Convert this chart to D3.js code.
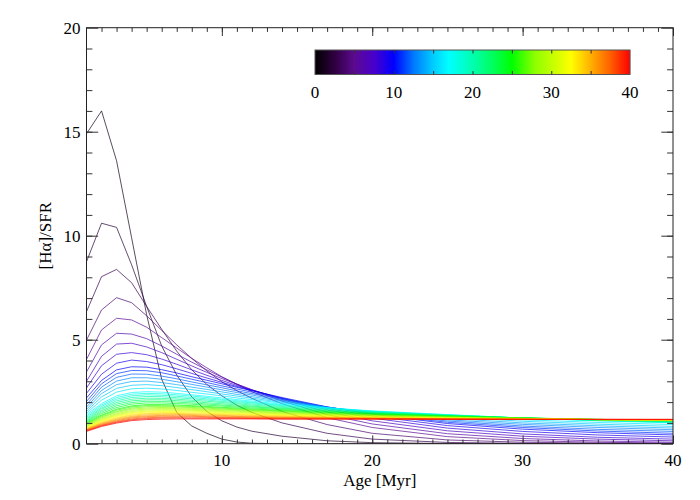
<!DOCTYPE html>
<html><head><meta charset="utf-8">
<script src="https://cdn.jsdelivr.net/npm/d3@7"></script>
<style>body{margin:0;background:#fff}svg{display:block}text{font-family:"Liberation Serif","Times New Roman",serif;fill:#000}</style>
</head><body>
<svg id="c" width="700" height="500"></svg>
<script>
const ages = [1,2,3,4,5,6,7,8,9,10,11,12,14,17,20,25,30,35,40];
const colorValues = d3.range(1,41);
const xTicks = [10,20,30,40];
const yTicks = [0,5,10,15,20];
const barTicks = [0,10,20,30,40];
const curveValues = [
[14.9,16.0,13.6,9.9,6.2,3.1,1.5,0.85,0.5,0.22,0.08,0.02,0,0,0,0,0,0,0],
[8.75,10.6,10.4,8.6,6.6,4.7,3.3,2.25,1.55,1.1,0.8,0.6,0.36,0.14,0.05,0.01,0,0,0],
[6.35,8.03,8.38,7.74,6.6,5.5,4.45,3.55,2.85,2.3,1.85,1.5,1.0,0.5,0.22,0.06,0.02,0,0],
[4.98,6.43,7.02,6.78,6.15,5.45,4.75,4.1,3.5,2.98,2.55,2.18,1.55,0.92,0.5,0.18,0.07,0.03,0.01],
[4.05,5.47,6.03,5.95,5.6,5.1,4.6,4.1,3.65,3.22,2.85,2.5,1.92,1.25,0.78,0.34,0.15,0.07,0.03],
[3.45,4.75,5.31,5.27,5.05,4.7,4.3,3.92,3.55,3.2,2.87,2.57,2.05,1.4,0.95,0.48,0.25,0.13,0.07],
[3.0,4.2,4.79,4.83,4.65,4.38,4.06,3.74,3.43,3.13,2.86,2.6,2.12,1.53,1.1,0.62,0.36,0.22,0.14],
[2.68,3.75,4.3,4.38,4.28,4.07,3.82,3.55,3.29,3.04,2.8,2.58,2.17,1.63,1.23,0.75,0.47,0.31,0.22],
[2.42,3.34,3.87,4.02,3.95,3.8,3.6,3.38,3.16,2.95,2.75,2.56,2.19,1.7,1.33,0.87,0.59,0.42,0.32],
[2.2,3.04,3.55,3.7,3.68,3.56,3.4,3.22,3.05,2.88,2.71,2.55,2.22,1.77,1.41,0.97,0.7,0.53,0.42],
[2.03,2.88,3.37,3.52,3.51,3.41,3.26,3.1,2.94,2.78,2.63,2.48,2.17,1.76,1.43,1.03,0.78,0.61,0.5],
[1.88,2.72,3.19,3.35,3.34,3.25,3.12,2.97,2.83,2.69,2.54,2.41,2.13,1.76,1.46,1.09,0.85,0.69,0.59],
[1.76,2.56,3.01,3.17,3.17,3.1,2.98,2.85,2.72,2.59,2.46,2.34,2.08,1.75,1.48,1.15,0.93,0.78,0.67],
[1.65,2.41,2.84,2.99,3.01,2.94,2.84,2.72,2.61,2.49,2.37,2.26,2.04,1.74,1.51,1.22,1.0,0.86,0.75],
[1.56,2.25,2.66,2.81,2.84,2.79,2.7,2.6,2.5,2.39,2.29,2.19,1.99,1.73,1.53,1.28,1.08,0.94,0.83],
[1.47,2.09,2.48,2.64,2.67,2.63,2.56,2.47,2.39,2.3,2.2,2.12,1.95,1.73,1.56,1.34,1.15,1.02,0.92],
[1.4,1.93,2.3,2.46,2.5,2.48,2.42,2.35,2.28,2.2,2.12,2.05,1.9,1.72,1.58,1.4,1.23,1.1,1.0],
[1.33,1.86,2.22,2.38,2.42,2.4,2.35,2.29,2.22,2.14,2.07,2.0,1.86,1.69,1.56,1.39,1.23,1.11,1.02],
[1.27,1.79,2.14,2.3,2.35,2.33,2.28,2.22,2.16,2.09,2.02,1.96,1.83,1.67,1.54,1.38,1.23,1.12,1.03],
[1.21,1.72,2.06,2.22,2.27,2.26,2.21,2.16,2.1,2.03,1.97,1.91,1.79,1.64,1.52,1.37,1.23,1.13,1.05],
[1.16,1.66,1.98,2.14,2.19,2.18,2.14,2.09,2.04,1.98,1.92,1.86,1.75,1.61,1.5,1.36,1.24,1.14,1.06],
[1.11,1.59,1.9,2.06,2.11,2.11,2.07,2.03,1.97,1.92,1.86,1.81,1.71,1.58,1.48,1.35,1.24,1.14,1.08],
[1.07,1.52,1.82,1.98,2.04,2.03,2.0,1.96,1.91,1.86,1.81,1.77,1.68,1.56,1.46,1.34,1.24,1.15,1.09],
[1.03,1.45,1.74,1.9,1.96,1.96,1.93,1.9,1.85,1.81,1.76,1.72,1.64,1.53,1.44,1.33,1.24,1.16,1.11],
[0.99,1.38,1.66,1.82,1.88,1.88,1.86,1.83,1.79,1.75,1.71,1.67,1.6,1.5,1.42,1.32,1.24,1.17,1.12],
[0.95,1.34,1.61,1.77,1.83,1.83,1.81,1.79,1.75,1.71,1.67,1.63,1.57,1.47,1.4,1.31,1.23,1.17,1.12],
[0.92,1.29,1.55,1.71,1.78,1.78,1.77,1.74,1.71,1.67,1.63,1.6,1.54,1.45,1.38,1.29,1.22,1.17,1.12],
[0.89,1.25,1.5,1.66,1.72,1.74,1.72,1.7,1.66,1.63,1.6,1.56,1.5,1.42,1.36,1.28,1.22,1.16,1.13],
[0.86,1.2,1.44,1.6,1.67,1.69,1.68,1.65,1.62,1.59,1.56,1.53,1.47,1.4,1.34,1.26,1.21,1.16,1.13],
[0.83,1.16,1.39,1.55,1.62,1.64,1.63,1.61,1.58,1.55,1.52,1.49,1.44,1.37,1.32,1.25,1.2,1.16,1.13],
[0.8,1.12,1.35,1.5,1.57,1.59,1.59,1.57,1.54,1.51,1.48,1.46,1.41,1.35,1.3,1.24,1.2,1.16,1.13],
[0.77,1.09,1.31,1.46,1.53,1.55,1.54,1.53,1.5,1.47,1.45,1.42,1.38,1.33,1.28,1.23,1.19,1.16,1.14],
[0.75,1.05,1.26,1.41,1.48,1.5,1.5,1.48,1.46,1.44,1.41,1.39,1.35,1.3,1.27,1.22,1.19,1.16,1.14],
[0.72,1.02,1.22,1.37,1.44,1.46,1.45,1.44,1.42,1.4,1.38,1.36,1.32,1.28,1.25,1.21,1.18,1.16,1.15],
[0.7,0.98,1.18,1.32,1.39,1.41,1.41,1.4,1.38,1.36,1.34,1.32,1.29,1.26,1.23,1.2,1.18,1.16,1.15],
[0.68,0.95,1.14,1.28,1.34,1.36,1.37,1.36,1.34,1.33,1.31,1.29,1.27,1.24,1.22,1.19,1.18,1.16,1.15],
[0.66,0.92,1.10,1.24,1.3,1.32,1.32,1.32,1.30,1.29,1.28,1.27,1.25,1.23,1.21,1.19,1.18,1.16,1.16],
[0.64,0.89,1.06,1.19,1.25,1.27,1.28,1.28,1.27,1.26,1.25,1.24,1.22,1.21,1.2,1.18,1.17,1.17,1.16],
[0.62,0.86,1.03,1.15,1.21,1.23,1.24,1.23,1.23,1.22,1.22,1.21,1.2,1.19,1.19,1.18,1.17,1.17,1.17],
[0.59,0.83,0.99,1.11,1.16,1.18,1.19,1.19,1.19,1.19,1.19,1.19,1.18,1.18,1.18,1.17,1.17,1.17,1.17]
];
const cmapStops = [0,2.5,5,7.5,10,12.5,15,17,20,22.5,25,28,32.5,35,37.5,40];
const cmapColors = ["#000000","#2e0040","#5c0a90","#4800cc","#0000ff","#0078ff","#00ccff","#00ffff","#00ffb0","#00ff60","#00ff00","#90ff00","#ffff00","#ffb000","#ff6000","#ff0000"];

const svg = d3.select("#c");
const L=86.5,R=673,T=27.7,B=443.7;
const x = d3.scaleLinear().domain([1,40]).range([L,R]);
const y = d3.scaleLinear().domain([0,20]).range([B,T]);
const cmap = d3.scaleLinear().domain(cmapStops).range(cmapColors).clamp(true);

svg.append("clipPath").attr("id","pc").append("rect").attr("x",L).attr("y",T).attr("width",R-L).attr("height",B-T);
const line = d3.line().x((d,i)=>x(ages[i])).y(d=>y(d));
const g = svg.append("g").attr("clip-path","url(#pc)");
g.selectAll("path").data(curveValues).join("path")
  .attr("d",line).attr("fill","none")
  .attr("stroke",(d,i)=>cmap(colorValues[i])).attr("stroke-width",0.7);

const fs = 17;
const xMinor = d3.range(2,40);
const yMinor = d3.range(1,20);
function ax(axis, tr){ return svg.append("g").attr("transform",tr).call(axis).call(s=>s.select(".domain").remove()); }
ax(d3.axisTop(x).tickValues(xMinor).tickSize(4.2).tickFormat(""), `translate(0,${B})`);
ax(d3.axisTop(x).tickValues(xTicks).tickSize(8.3).tickFormat(""), `translate(0,${B})`);
ax(d3.axisBottom(x).tickValues(xMinor).tickSize(4.2).tickFormat(""), `translate(0,${T})`);
ax(d3.axisBottom(x).tickValues(xTicks).tickSize(8.3).tickFormat(""), `translate(0,${T})`);
ax(d3.axisRight(y).tickValues(yMinor).tickSize(5.9).tickFormat(""), `translate(${L},0)`);
ax(d3.axisRight(y).tickValues(yTicks).tickSize(11.7).tickFormat(""), `translate(${L},0)`);
ax(d3.axisLeft(y).tickValues(yMinor).tickSize(5.9).tickFormat(""), `translate(${R},0)`);
ax(d3.axisLeft(y).tickValues(yTicks).tickSize(11.7).tickFormat(""), `translate(${R},0)`);
svg.selectAll(".tick line").attr("stroke","#222");
svg.append("rect").attr("x",L).attr("y",T).attr("width",R-L).attr("height",B-T).attr("fill","none").attr("stroke","#222").attr("stroke-width",1);

svg.append("g").selectAll("text").data(xTicks).join("text")
  .attr("x",d=>x(d)).attr("y",B+22.5).attr("text-anchor","middle").attr("font-size",fs).text(d=>d);
svg.append("g").selectAll("text").data(yTicks).join("text")
  .attr("x",L-6).attr("y",d=>y(d)+6).attr("text-anchor","end").attr("font-size",fs).text(d=>d);
svg.append("text").attr("x",(L+R)/2).attr("y",B+42.5).attr("text-anchor","middle").attr("font-size",fs).text("Age [Myr]");
svg.append("text").attr("transform",`translate(51,${(T+B)/2}) rotate(-90)`).attr("text-anchor","middle").attr("font-size",fs).text("[Hα]/SFR");

const cb = d3.scaleLinear().domain([0,40]).range([315,630]);
const cbT=50, cbB=74.5;
svg.append("g").selectAll("rect").data(d3.range(0,315)).join("rect")
  .attr("x",d=>315+d).attr("y",cbT).attr("width",1.2).attr("height",cbB-cbT)
  .attr("fill",d=>cmap(cb.invert(315+d+0.5)));
svg.append("rect").attr("x",315).attr("y",cbT).attr("width",315).attr("height",cbB-cbT).attr("fill","none").attr("stroke","#555");
const cbTicks = d3.range(5,40,5);
ax(d3.axisBottom(cb).tickValues(cbTicks).tickSize(3.5).tickFormat(""), `translate(0,${cbT})`);
ax(d3.axisTop(cb).tickValues(cbTicks).tickSize(3.5).tickFormat(""), `translate(0,${cbB})`);
svg.selectAll(".tick line").attr("stroke","#333");
svg.append("g").selectAll("text").data(barTicks).join("text")
  .attr("x",d=>cb(d)).attr("y",cbB+23).attr("text-anchor","middle").attr("font-size",fs).text(d=>d);
</script>
</body></html>
